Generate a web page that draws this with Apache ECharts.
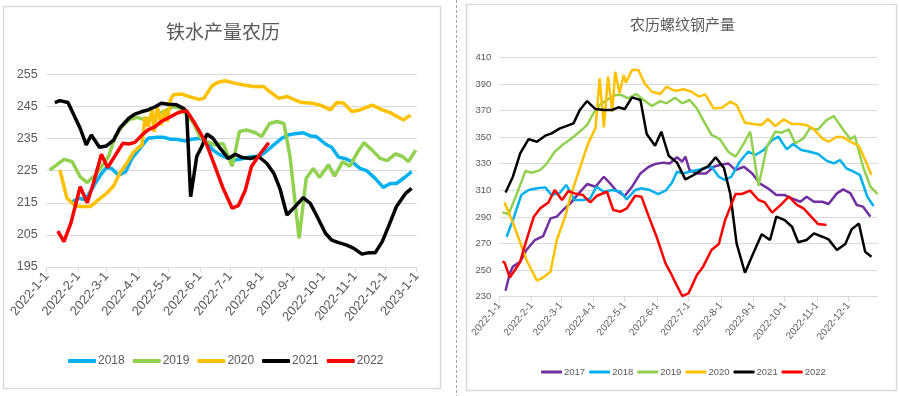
<!DOCTYPE html>
<html><head><meta charset="utf-8">
<script src="https://cdn.jsdelivr.net/npm/echarts@6/dist/echarts.min.js"></script>
<style>html,body{margin:0;padding:0;background:#fff}#c{width:899px;height:396px}</style>
</head><body><div id="c"></div>
<script>
// ---------- texts ----------
const leftTitle = '铁水产量农历';
const rightTitle = '农历螺纹钢产量';
const leftTicks = ['2022-1-1','2022-2-1','2022-3-1','2022-4-1','2022-5-1','2022-6-1','2022-7-1','2022-8-1','2022-9-1','2022-10-1','2022-11-1','2022-12-1','2023-1-1'];
const rightTicks = ['2022-1-1','2022-2-1','2022-3-1','2022-4-1','2022-5-1','2022-6-1','2022-7-1','2022-8-1','2022-9-1','2022-10-1','2022-11-1','2022-12-1'];
const leftYears = ['2018','2019','2020','2021','2022'];
const rightYears = ['2017','2018','2019','2020','2021','2022'];

// ---------- left: 铁水产量 [day of lunar-aligned year (from 2022-1-1), value] ----------
const iron2018 = [[25,215.3],[32,216.4],[38,215.9],[46,220.0],[53,223.6],[59,226.0],[64,225.7],[71,223.6],[78,224.7],[84,228.8],[92,231.9],[100,235.1],[109,235.4],[115,235.4],[122,234.8],[128,234.8],[137,234.2],[143,234.8],[151,235.1],[158,234.0],[164,231.4],[171,229.9],[179,228.8],[186,228.3],[194,228.8],[202,229.4],[209,229.4],[215,230.6],[224,233.0],[232,235.1],[238,236.1],[247,236.6],[253,236.8],[260,235.8],[266,235.6],[275,233.3],[281,232.3],[288,229.2],[294,228.8],[301,227.8],[309,225.7],[316,224.9],[324,222.6],[332,219.8],[339,221.0],[345,221.0],[354,223.1],[360,224.7]];
const iron2019 = [[3,225.2],[10,226.8],[17,228.5],[25,227.8],[33,223.1],[40,221.3],[48,223.6],[54,226.2],[61,229.4],[67,235.1],[74,238.7],[81,240.8],[89,241.6],[97,240.8],[105,241.8],[115,243.4],[125,244.9],[132,244.4],[138,242.3],[145,239.7],[151,235.6],[158,234.0],[166,233.0],[174,233.5],[183,226.3],[190,237.1],[197,237.7],[206,236.8],[212,235.6],[220,239.7],[227,240.3],[234,239.7],[240,229.4],[249,203.9],[256,222.6],[263,225.7],[269,222.9],[278,226.8],[284,223.3],[292,227.8],[299,226.4],[306,230.4],[313,233.7],[321,231.4],[329,228.8],[336,228.1],[344,230.2],[351,229.4],[357,227.8],[364,231.4]];
const iron2020 = [[13,225.2],[20,216.4],[28,214.1],[35,213.8],[43,213.8],[51,215.9],[59,217.9],[66,220.2],[72,224.2],[79,227.3],[86,230.9],[94,233.0],[97,241.8],[100,238.7],[104,243.9],[106,237.1],[109,244.9],[113,239.2],[116,243.9],[119,240.3],[122,247.0],[125,248.6],[133,248.9],[141,248.0],[150,247.2],[155,247.5],[163,251.4],[169,252.5],[176,253.0],[183,252.4],[194,251.7],[204,251.2],[214,251.2],[220,249.6],[229,247.5],[237,248.1],[245,247.0],[252,246.2],[262,246.0],[270,245.4],[280,243.9],[286,246.2],[293,246.0],[301,243.4],[309,243.9],[321,245.4],[331,243.9],[340,242.9],[352,240.8],[359,242.3]];
const iron2021 = [[8,246.2],[13,246.8],[21,246.2],[26,242.9],[33,238.2],[39,233.0],[44,236.1],[52,232.3],[59,232.7],[66,234.5],[72,238.2],[81,241.3],[87,242.6],[94,243.4],[100,243.9],[107,244.9],[113,246.0],[120,245.7],[128,245.5],[135,244.4],[138,243.4],[142,216.9],[148,229.4],[153,232.5],[158,236.4],[164,235.1],[171,232.0],[179,228.8],[186,230.1],[192,229.2],[201,228.8],[209,229.4],[217,227.3],[224,224.2],[230,219.5],[237,211.2],[245,213.8],[253,216.6],[260,214.8],[266,211.2],[275,205.5],[281,203.4],[288,202.6],[296,201.8],[303,200.8],[311,199.0],[317,199.4],[324,199.4],[331,202.9],[337,207.5],[345,213.8],[354,217.9],[360,219.5]];
const iron2022 = [[11,206.2],[17,202.9],[24,208.8],[33,220.0],[40,215.0],[46,221.0],[54,230.1],[60,226.0],[67,229.4],[75,233.5],[81,233.3],[87,233.8],[94,236.1],[100,237.7],[107,238.7],[113,240.3],[122,241.8],[130,243.1],[138,243.7],[145,240.3],[151,237.1],[158,233.0],[166,226.3],[174,219.5],[183,213.3],[189,214.1],[196,219.0],[202,226.3],[211,230.4],[219,233.7]];

// ---------- right: 螺纹钢产量 ----------
const rebar2017 = [[6,234.5],[10,247.5],[13,252.6],[20,256.3],[26,265.1],[34,272.6],[42,275.6],[49,288.9],[55,290.2],[61,295.2],[68,300.2],[76,307.7],[84,314.7],[92,312.7],[100,320.2],[106,315.2],[112,309.7],[120,305.7],[127,312.7],[135,322.7],[143,327.7],[149,329.7],[157,330.8],[163,330.2],[170,334.8],[175,331.5],[178,335.3],[182,325.2],[189,322.7],[198,322.7],[205,327.7],[211,329.0],[219,330.2],[226,325.2],[234,327.7],[242,322.7],[249,315.2],[257,311.5],[265,306.4],[273,306.4],[280,303.9],[288,301.4],[294,305.2],[301,301.4],[309,301.4],[315,299.7],[323,307.7],[329,310.7],[336,307.7],[342,298.9],[348,297.7],[355,290.2]];
const rebar2018 = [[7,275.1],[13,287.6],[21,306.4],[28,310.2],[36,311.5],[44,312.2],[50,306.4],[58,308.2],[64,314.0],[72,302.7],[80,302.7],[87,303.9],[93,312.7],[100,308.9],[108,310.2],[116,308.9],[122,303.2],[130,310.2],[136,311.5],[144,310.2],[152,307.2],[159,309.7],[165,315.5],[170,324.0],[176,322.7],[182,324.0],[189,325.2],[195,326.5],[203,327.7],[210,320.2],[216,317.7],[222,320.2],[230,331.5],[238,339.0],[245,336.5],[253,340.3],[261,347.8],[267,350.3],[275,340.8],[281,344.8],[289,340.3],[297,339.0],[305,337.3],[313,332.3],[320,330.2],[326,332.8],[332,326.5],[339,324.0],[345,321.5],[352,305.2],[358,298.2]];
const rebar2019 = [[3,293.4],[9,292.2],[17,307.7],[25,324.5],[31,323.2],[39,325.2],[45,329.7],[53,339.0],[61,344.5],[69,349.0],[77,354.1],[84,359.1],[90,367.8],[96,374.1],[104,378.6],[111,381.6],[117,381.6],[123,379.1],[131,382.4],[138,377.9],[146,373.4],[154,377.1],[160,375.4],[168,379.6],[175,375.4],[182,377.9],[189,371.6],[195,362.8],[203,351.6],[211,348.5],[219,339.0],[226,335.3],[234,345.3],[240,354.1],[248,313.2],[256,342.8],[264,354.1],[270,353.3],[277,355.8],[283,345.3],[291,349.0],[297,356.6],[305,355.8],[313,362.8],[320,365.8],[328,356.6],[336,348.3],[340,350.8],[348,327.7],[355,312.7],[362,307.2]];
const rebar2020 = [[5,300.9],[12,287.6],[18,275.1],[26,257.6],[36,242.0],[42,244.5],[49,248.8],[55,272.6],[63,290.2],[69,307.7],[77,326.5],[85,345.3],[92,356.6],[96,394.2],[100,357.3],[104,395.4],[108,369.1],[111,399.2],[115,382.9],[119,396.7],[121,390.9],[127,400.4],[133,400.4],[139,390.4],[146,384.1],[154,382.4],[160,387.9],[166,385.4],[170,384.9],[176,386.1],[184,384.1],[191,380.4],[197,382.1],[205,371.6],[213,372.1],[221,376.6],[227,374.1],[235,360.8],[243,359.8],[251,359.1],[257,363.6],[264,358.3],[272,363.3],[280,359.8],[286,359.8],[294,359.1],[301,355.8],[309,349.0],[315,346.5],[323,350.3],[329,349.8],[336,346.5],[344,343.3],[350,332.8],[356,321.5]];
const rebar2021 = [[6,308.4],[13,320.2],[20,337.8],[28,348.5],[36,346.5],[44,351.1],[50,352.8],[58,356.6],[64,358.3],[71,360.3],[77,370.4],[84,377.1],[92,371.1],[100,370.4],[108,370.4],[114,372.4],[120,371.1],[127,379.9],[135,377.9],[141,352.3],[149,343.5],[155,354.1],[162,336.0],[170,330.8],[178,318.2],[186,321.5],[194,325.7],[200,328.2],[207,334.8],[215,326.5],[221,307.2],[227,270.1],[235,248.0],[243,262.6],[251,276.9],[259,272.6],[265,290.2],[273,287.6],[280,282.6],[286,270.9],[294,272.6],[301,277.6],[309,275.1],[315,273.1],[323,265.1],[331,269.6],[337,280.6],[344,285.1],[350,263.8],[356,260.1]];
const rebar2022 = [[3,256.3],[5,255.8],[10,244.5],[15,250.1],[20,256.3],[26,272.6],[33,290.2],[39,296.4],[47,300.9],[53,310.2],[60,302.7],[66,309.4],[72,307.7],[80,306.4],[87,300.9],[93,305.7],[103,308.9],[109,295.2],[116,293.9],[122,296.4],[130,305.9],[136,305.2],[143,290.2],[151,273.9],[159,255.1],[165,246.3],[168,241.3],[175,230.5],[181,232.5],[189,246.3],[195,252.6],[203,265.1],[210,269.6],[216,287.6],[226,307.2],[232,307.2],[240,309.7],[248,302.7],[254,300.9],[261,293.2],[269,298.9],[277,305.2],[285,298.9],[291,296.4],[297,291.4],[305,284.6],[313,283.9]];

// ---------- helpers ----------
const DAY = 86400000;
const BASE = new Date(2022, 0, 1).getTime();
const parseTick = s => { const p = s.split('-').map(Number); return new Date(p[0], p[1]-1, p[2]).getTime(); };
const toSeries = arr => arr.map(p => [BASE + p[0]*DAY, p[1]]);
const fmt = v => { const d = new Date(v); return d.getFullYear() + '-' + (d.getMonth()+1) + '-' + d.getDate(); };
const colors = {'2017':'#7030A0','2018':'#00B0F0','2019':'#92D050','2020':'#FFC000','2021':'#000000','2022':'#FF0000'};
const FONT = "'Liberation Sans',Arial,sans-serif";
const TXT = '#595959', GRID = '#D9D9D9';

const leftData = {'2018':iron2018,'2019':iron2019,'2020':iron2020,'2021':iron2021,'2022':iron2022};
const rightData = {'2017':rebar2017,'2018':rebar2018,'2019':rebar2019,'2020':rebar2020,'2021':rebar2021,'2022':rebar2022};

const leftTickVals = leftTicks.map(parseTick);
const rightTickVals = rightTicks.map(parseTick);

function xAxis(gi, min, max, ticks, fs) {
  return {
    type: 'value', gridIndex: gi, min: min, max: max, scale: true,
    axisLine: {show: true, lineStyle: {color: GRID, width: 1}},
    axisTick: {show: true, customValues: ticks, length: 5, lineStyle: {color: GRID}},
    axisLabel: {customValues: ticks, rotate: 50, formatter: fmt, color: TXT, fontSize: fs, fontFamily: FONT, margin: 7, hideOverlap: false},
    splitLine: {show: false}, minorTick: {show: false}
  };
}
function yAxis(gi, min, max, itv, fs, mg) {
  return {
    type: 'value', gridIndex: gi, min: min, max: max, interval: itv,
    axisLine: {show: false}, axisTick: {show: false},
    axisLabel: {color: TXT, fontSize: fs, fontFamily: FONT, margin: mg},
    splitLine: {lineStyle: {color: GRID, width: 1}}
  };
}

const series = [];
leftYears.forEach(y => series.push({
  name: y, type: 'line', xAxisIndex: 0, yAxisIndex: 0, data: toSeries(leftData[y]),
  showSymbol: false, symbol: 'none', lineStyle: {width: 3.5, color: colors[y]}, itemStyle: {color: colors[y]}, animation: false
}));
rightYears.forEach(y => series.push({
  name: y, type: 'line', xAxisIndex: 1, yAxisIndex: 1, data: toSeries(rightData[y]),
  showSymbol: false, symbol: 'none', lineStyle: {width: 2.5, color: colors[y]}, itemStyle: {color: colors[y]}, animation: false
}));

const chart = echarts.init(document.getElementById('c'), null, {renderer: 'canvas'});
chart.setOption({
  backgroundColor: '#ffffff',
  animation: false,
  title: [
    {text: leftTitle, left: 166, top: 22, padding: 0, textStyle: {fontSize: 19, fontWeight: 'normal', color: TXT, fontFamily: "'Noto Sans CJK SC',sans-serif"}},
    {text: rightTitle, left: 630, top: 17, padding: 0, textStyle: {fontSize: 15, fontWeight: 'normal', color: TXT, fontFamily: "'Noto Sans CJK SC',sans-serif"}}
  ],
  legend: [
    {data: leftYears, left: 68, top: 355, icon: 'roundRect', itemWidth: 28, itemHeight: 4, itemGap: 8, padding: 0,
     textStyle: {fontSize: 12, color: TXT, fontFamily: FONT, padding: [0,0,0,-3]}},
    {data: rightYears, left: 541, top: 367, icon: 'roundRect', itemWidth: 21, itemHeight: 3, itemGap: 4, padding: 0,
     textStyle: {fontSize: 9.5, color: TXT, fontFamily: FONT, padding: [0,0,0,-3]}}
  ],
  grid: [
    {left: 46.7, top: 74.3, width: 370, height: 192.7, containLabel: false},
    {left: 499.3, top: 57.3, width: 378.4, height: 239.4, containLabel: false}
  ],
  xAxis: [
    xAxis(0, BASE, parseTick('2023-1-1'), leftTickVals, 13),
    xAxis(1, BASE, parseTick('2022-12-29'), rightTickVals, 10)
  ],
  yAxis: [
    yAxis(0, 195, 255, 10, 12.5, 9),
    yAxis(1, 230, 410, 20, 9.5, 8)
  ],
  graphic: [
    {type: 'rect', shape: {x: 3.5, y: 6.5, width: 437, height: 382}, style: {fill: null, stroke: GRID, lineWidth: 1.5}, silent: true},
    {type: 'rect', shape: {x: 466.5, y: 4.5, width: 430, height: 386}, style: {fill: null, stroke: GRID, lineWidth: 1.5}, silent: true},
    {type: 'line', shape: {x1: 456.5, y1: 0, x2: 456.5, y2: 396}, style: {stroke: '#A6A6A6', lineWidth: 1, lineDash: [3, 2]}, silent: true}
  ],
  series: series
});
</script>
</body></html>
